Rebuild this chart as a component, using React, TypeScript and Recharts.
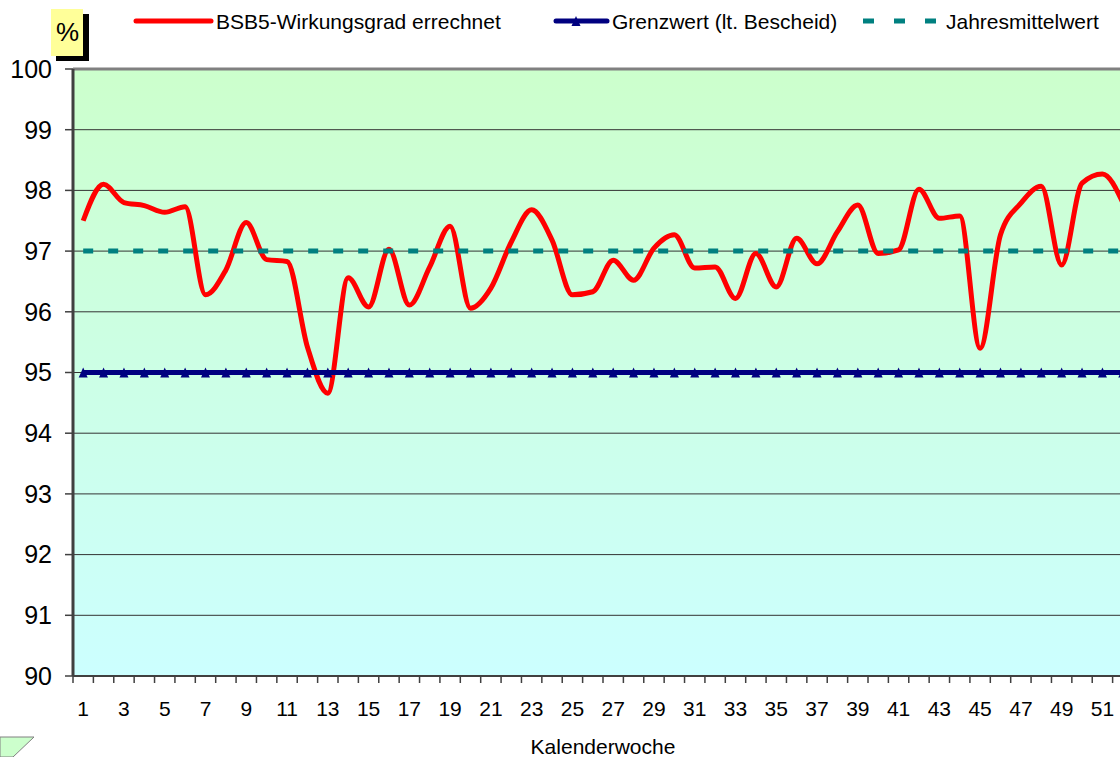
import React from 'react';
import { LineChart, Line, XAxis, YAxis, CartesianGrid, Legend, ReferenceLine } from 'recharts';

const FONT = '"Liberation Sans", Arial, sans-serif';

const weeks = [1, 2, 3, 4, 5, 6, 7, 8, 9, 10, 11, 12, 13, 14, 15, 16, 17, 18, 19, 20, 21, 22, 23, 24, 25, 26,
  27, 28, 29, 30, 31, 32, 33, 34, 35, 36, 37, 38, 39, 40, 41, 42, 43, 44, 45, 46, 47, 48, 49, 50, 51, 52];

const wirkungsgrad = [97.5, 98.1, 97.8, 97.75, 97.64, 97.73, 96.28, 96.69, 97.47, 96.86,
  96.83, 95.42, 94.66, 96.56, 96.08, 97.03, 96.11, 96.74, 97.41, 96.06,
  96.39, 97.15, 97.68, 97.18, 96.28, 96.33, 96.85, 96.52, 97.05, 97.27,
  96.72, 96.74, 96.22, 96.96, 96.41, 97.21, 96.79, 97.32, 97.76, 96.96,
  97.02, 98.02, 97.54, 97.58, 95.4, 97.27, 97.79, 98.07, 96.77, 98.12,
  98.27, 97.8];

const grenzwert = 95;
const jahresmittel = 97;

const xLabels = [1, 3, 5, 7, 9, 11, 13, 15, 17, 19, 21, 23, 25, 27, 29, 31, 33, 35, 37, 39, 41, 43, 45, 47, 49, 51];
const xTickMarks = [0.5, 1.5, 2.5, 3.5, 4.5, 5.5, 6.5, 7.5, 8.5, 9.5, 10.5, 11.5, 12.5, 13.5, 14.5, 15.5, 16.5,
  17.5, 18.5, 19.5, 20.5, 21.5, 22.5, 23.5, 24.5, 25.5, 26.5, 27.5, 28.5, 29.5, 30.5, 31.5, 32.5, 33.5, 34.5,
  35.5, 36.5, 37.5, 38.5, 39.5, 40.5, 41.5, 42.5, 43.5, 44.5, 45.5, 46.5, 47.5, 48.5, 49.5, 50.5, 51.5, 52.5];
const yTicks = [90, 91, 92, 93, 94, 95, 96, 97, 98, 99, 100];

const data = weeks.map((w, i) => ({
  kw: w,
  bsb: wirkungsgrad[i],
  grenz: grenzwert,
  mittel: jahresmittel,
}));

const XTick = (props: any) => {
  const { x, y, payload } = props;
  const v = payload.value;
  if (v % 1 !== 0) {
    return <line x1={x} x2={x} y1={y} y2={y + 7} stroke="#404040" strokeWidth={1.5} />;
  }
  return (
    <text x={x} y={y + 40} textAnchor="middle" fontSize={21} fontFamily={FONT} fill="#000">
      {v}
    </text>
  );
};

const Triangle = (props: any) => {
  const { cx, cy } = props;
  if (cx == null || cy == null) return null;
  return <polygon points={`${cx},${cy - 5} ${cx - 4.5},${cy + 5} ${cx + 4.5},${cy + 5}`} fill="#000080" />;
};

const LegendBox = () => (
  <svg width={1120} height={45} style={{ display: 'block' }}>
    <line x1={136} x2={211} y1={21} y2={21} stroke="#FF0000" strokeWidth={5} strokeLinecap="round" />
    <text x={216} y={29} fontSize={21} fontFamily={FONT} fill="#000">BSB5-Wirkungsgrad errechnet</text>
    <line x1={556} x2={607} y1={21} y2={21} stroke="#000080" strokeWidth={5} strokeLinecap="round" />
    <polygon points="576,16 571.5,26 580.5,26" fill="#000080" />
    <text x={612} y={29} fontSize={21} fontFamily={FONT} fill="#000">Grenzwert (lt. Bescheid)</text>
    <line x1={863} x2={937} y1={21} y2={21} stroke="#008080" strokeWidth={5} strokeDasharray="11 20" />
    <text x={946} y={29} fontSize={21} fontFamily={FONT} fill="#000">Jahresmittelwert</text>
  </svg>
);

export default function App() {
  return (
    <div style={{ position: 'fixed', left: 0, top: 0, width: 1120, height: 757, overflow: 'hidden', background: '#fff' }}>
      <LineChart width={1150} height={757} data={data} margin={{ top: 69, right: 17, left: 0, bottom: 0 }}>
        <defs>
          <linearGradient id="plotBg" x1="0" y1="0" x2="0" y2="1">
            <stop offset="0%" stopColor="#CCFFCC" />
            <stop offset="100%" stopColor="#CCFFFF" />
          </linearGradient>
        </defs>
        <CartesianGrid vertical={false} fill="url(#plotBg)" stroke="#333333" strokeWidth={1} />
        <XAxis
          dataKey="kw"
          type="number"
          domain={[0.5, 52.5]}
          ticks={[...xTickMarks, ...xLabels]}
          interval={0}
          tick={<XTick />}
          tickLine={false}
          tickSize={0}
          tickMargin={0}
          height={81}
          axisLine={{ stroke: '#404040', strokeWidth: 2 }}
          label={{ value: 'Kalenderwoche', position: 'insideBottom', offset: 3, fontSize: 21, fontFamily: FONT, fill: '#000' }}
        />
        <YAxis
          type="number"
          domain={[90, 100]}
          ticks={yTicks}
          interval={0}
          width={73}
          tickSize={8}
          tickMargin={13}
          tick={{ fontSize: 25, fontFamily: FONT, fill: '#000' }}
          tickLine={{ stroke: '#404040', strokeWidth: 1.5 }}
          axisLine={{ stroke: '#404040', strokeWidth: 3 }}
        />
        <ReferenceLine y={100} stroke="#808080" strokeWidth={3} />
        <Legend verticalAlign="middle" align="center" layout="horizontal" content={<LegendBox />}
          wrapperStyle={{ top: 0, left: 0, width: 1120, height: 45 }} />
        <Line dataKey="bsb" name="BSB5-Wirkungsgrad errechnet" type="monotone" stroke="#FF0000" strokeWidth={5}
          dot={false} isAnimationActive={false} />
        <Line dataKey="grenz" name="Grenzwert (lt. Bescheid)" type="linear" stroke="#000080" strokeWidth={5}
          dot={<Triangle />} isAnimationActive={false} />
        <Line dataKey="mittel" name="Jahresmittelwert" type="linear" stroke="#008080" strokeWidth={5}
          strokeDasharray="10 15" dot={false} isAnimationActive={false} />
      </LineChart>
      <svg width={1120} height={757} style={{ position: 'absolute', left: 0, top: 0, pointerEvents: 'none' }}>
        <rect x={56} y={14} width={33} height={47} fill="#000" />
        <rect x={51} y={9} width={32} height={47} fill="#FFFF99" />
        <text x={67.5} y={41} textAnchor="middle" fontSize={26} fontFamily={FONT} fill="#000">%</text>
        <polygon points="0,737 34,737 13,757 0,757" fill="#CCFFCC" stroke="#808080" strokeWidth={1} />
      </svg>
    </div>
  );
}
